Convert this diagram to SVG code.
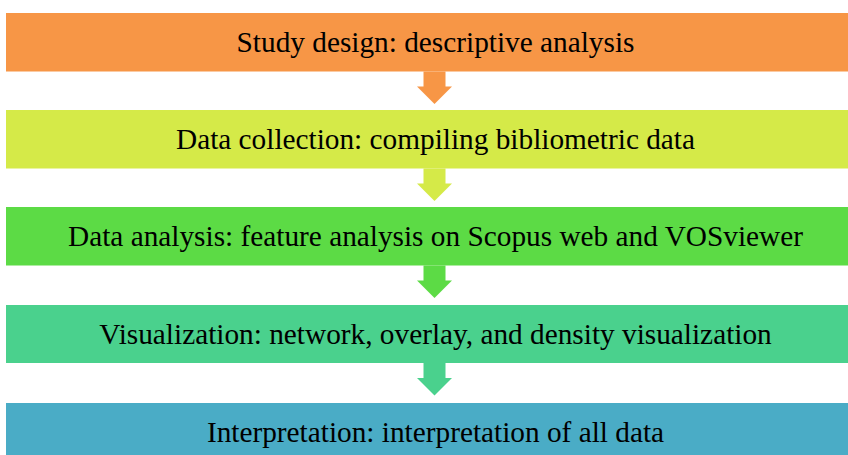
<svg xmlns="http://www.w3.org/2000/svg" width="848" height="455" viewBox="0 0 848 455">
<style>
.box{stroke:none}
.lbl{font-family:"Liberation Serif","Times New Roman",serif;font-size:29.3px;fill:#000;text-anchor:middle}
</style>
<defs>
<path id="arr" d="M423.5,0 H445.5 V15 H452 L434.5,32.5 L417,15 H423.5 Z"/>
</defs>
<rect width="848" height="455" fill="#fff"/>
<g id="connectors">
<use href="#arr" y="71.5" fill="#F79646"/>
<use href="#arr" y="168.5" fill="#D5EA48"/>
<use href="#arr" y="265.5" fill="#5CDB45"/>
<use href="#arr" y="363" fill="#4AD18D"/>
</g>
<g id="n1"><rect class="box" x="6" y="13" width="860" height="58.5" fill="#F79646"/><text class="lbl" x="435.5" y="52">Study design: descriptive analysis</text></g>
<g id="n2"><rect class="box" x="6" y="110" width="860" height="58.5" fill="#D5EA48"/><text class="lbl" x="435.5" y="149">Data collection: compiling bibliometric data</text></g>
<g id="n3"><rect class="box" x="6" y="207" width="860" height="58.5" fill="#5CDB45"/><text class="lbl" x="435.5" y="246">Data analysis: feature analysis on Scopus web and VOSviewer</text></g>
<g id="n4"><rect class="box" x="6" y="305" width="860" height="58" fill="#4AD18D"/><text class="lbl" x="435.5" y="344">Visualization: network, overlay, and density visualization</text></g>
<g id="n5"><rect class="box" x="6" y="403" width="860" height="60" fill="#4AACC6"/><text class="lbl" x="435.5" y="442">Interpretation: interpretation of all data</text></g>
</svg>
